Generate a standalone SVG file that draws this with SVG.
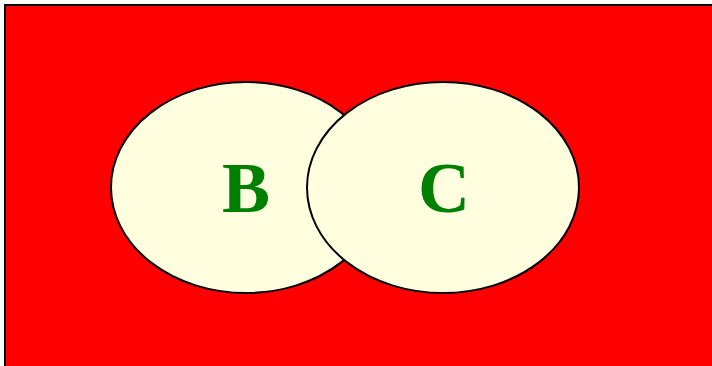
<svg xmlns="http://www.w3.org/2000/svg" width="712" height="366" viewBox="0 0 712 366">
<style>
.set{fill:#ffffe0;stroke:#000;stroke-width:2}
.lbl{font-family:"Liberation Serif","Times New Roman",serif;font-weight:bold;font-size:72px;fill:#008000;text-anchor:middle}
</style>
<g id="universe"><rect x="5" y="5" width="720" height="380" fill="#ff0000" stroke="#000" stroke-width="2"/></g>
<g id="B"><ellipse class="set" cx="246" cy="187.5" rx="135" ry="105.5"/><text class="lbl" x="246" y="212">B</text></g>
<g id="C"><ellipse class="set" cx="443" cy="187.5" rx="136" ry="105.5"/><text class="lbl" x="444" y="212">C</text></g>
<g id="connectors"/>
</svg>
